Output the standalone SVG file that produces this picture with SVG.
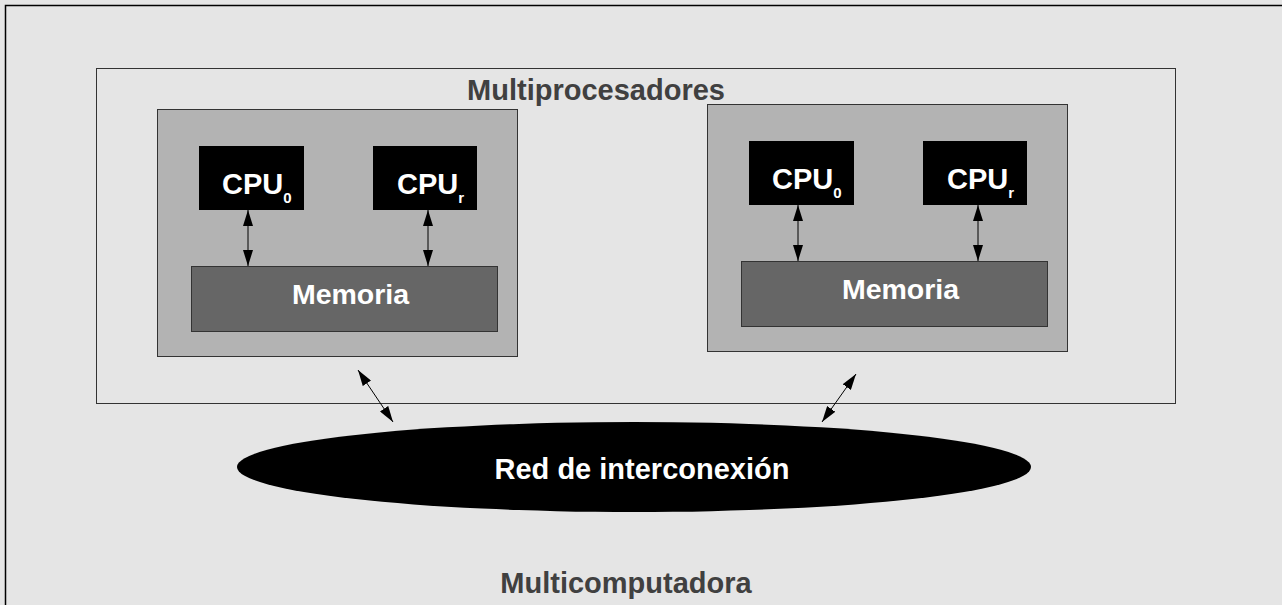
<svg xmlns="http://www.w3.org/2000/svg" width="1282" height="605" viewBox="0 0 1282 605">
  <style>
    .lbl { font-family: "Liberation Sans", Arial, sans-serif; font-weight: bold; }
    .title { fill: #404040; font-size: 29px; text-anchor: middle; }
    .white { fill: #ffffff; }
    .node { fill: #b3b3b3; stroke: #333333; stroke-width: 1; }
    .cpu { fill: #000000; }
    .mem { fill: #666666; stroke: #333333; stroke-width: 1; }
    .link { stroke: #000000; stroke-width: 1; fill: none; }
  </style>
  <defs>
    <marker id="head" viewBox="0 0 16 10" refX="16" refY="5" markerWidth="16" markerHeight="10" markerUnits="userSpaceOnUse" orient="auto-start-reverse">
      <path d="M0,0 L16,5 L0,10 Z" fill="#000000"/>
    </marker>
  </defs>

  <!-- background: multicomputer frame -->
  <rect x="0" y="0" width="1282" height="605" fill="#e5e5e5"/>
  <rect id="multicomputadora" x="5.5" y="5.5" width="1290" height="610" fill="#e5e5e5" stroke="#000000" stroke-width="1.5"/>

  <!-- multiprocessor enclosure -->
  <rect id="multiprocesadores" x="96.5" y="68.5" width="1079" height="335" fill="#e5e5e5" stroke="#333333" stroke-width="1"/>
  <text class="lbl title" x="596" y="100">Multiprocesadores</text>

  <!-- node A -->
  <g id="nodo-a">
    <rect class="node" x="157.5" y="109.5" width="360" height="247"/>
    <rect class="cpu" x="199" y="146" width="105" height="64"/>
    <text class="lbl white" x="222" y="194" font-size="29">CPU<tspan font-size="15" dy="9">0</tspan></text>
    <rect class="cpu" x="373" y="146" width="104" height="64"/>
    <text class="lbl white" x="397" y="194" font-size="29">CPU<tspan font-size="15" dy="9">r</tspan></text>
    <rect class="mem" x="191.5" y="266.5" width="306" height="65"/>
    <text class="lbl white" x="350.5" y="304" font-size="28.5" text-anchor="middle">Memoria</text>
  </g>

  <!-- node B -->
  <g id="nodo-b">
    <rect class="node" x="707.5" y="104.5" width="360" height="247"/>
    <rect class="cpu" x="749" y="141" width="105" height="64"/>
    <text class="lbl white" x="772" y="189" font-size="29">CPU<tspan font-size="15" dy="9">0</tspan></text>
    <rect class="cpu" x="923" y="141" width="104" height="64"/>
    <text class="lbl white" x="947" y="189" font-size="29">CPU<tspan font-size="15" dy="9">r</tspan></text>
    <rect class="mem" x="741.5" y="261.5" width="306" height="65"/>
    <text class="lbl white" x="900.5" y="299" font-size="28.5" text-anchor="middle">Memoria</text>
  </g>

  <!-- interconnection network -->
  <g id="red">
    <ellipse cx="634" cy="467" rx="397" ry="45" fill="#000000"/>
    <text class="lbl white" x="642" y="479" font-size="29" text-anchor="middle">Red de interconexión</text>
  </g>

  <!-- connectors -->
  <g id="conectores">
    <line class="link" x1="248" y1="210" x2="248" y2="266" marker-start="url(#head)" marker-end="url(#head)"/>
    <line class="link" x1="428" y1="210" x2="428" y2="266" marker-start="url(#head)" marker-end="url(#head)"/>
    <line class="link" x1="798" y1="205" x2="798" y2="261" marker-start="url(#head)" marker-end="url(#head)"/>
    <line class="link" x1="978" y1="205" x2="978" y2="261" marker-start="url(#head)" marker-end="url(#head)"/>
    <line class="link" x1="358" y1="370" x2="393" y2="422" marker-start="url(#head)" marker-end="url(#head)"/>
    <line class="link" x1="856" y1="374" x2="822" y2="422" marker-start="url(#head)" marker-end="url(#head)"/>
  </g>

  <text class="lbl title" x="626" y="593">Multicomputadora</text>
</svg>
